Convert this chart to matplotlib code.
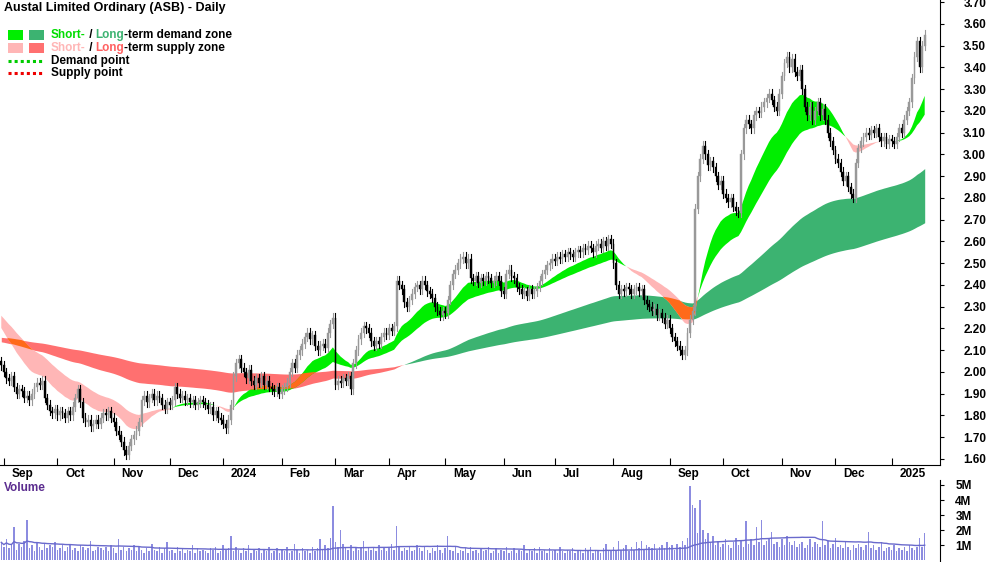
import numpy as np
import pandas as pd
import matplotlib
matplotlib.use("Agg")
import matplotlib.pyplot as plt
from matplotlib.patches import Rectangle

plt.rcParams['font.family'] = ['Liberation Sans', 'DejaVu Sans']
plt.rcParams['font.weight'] = 'bold'

closes = [
 2.03,2.00,1.97,1.96, 1.98,1.93,1.90,1.92, 1.91,1.88,1.89,1.87,1.90, 1.93,1.95,1.94,1.96, 1.88,1.85,
 1.82,1.81,1.83,1.80,1.82,1.81,1.79,1.82,1.80, 1.84,1.88,1.92,1.86, 1.79,1.77,1.78,1.75,1.76,1.78,1.76,1.79,
 1.81,1.80,1.82,1.79,1.77, 1.73,1.71,1.68,1.64, 1.62,1.66,1.69,1.71,1.73,1.77,
 1.87,1.89,1.86,1.88,1.90,1.87,1.89,1.88, 1.85,1.83,1.86,1.85,1.87, 1.93,1.90,
 1.88,1.89,1.87,1.88,1.86,1.87,1.85,1.86,1.87,1.86, 1.85,1.83,1.84,1.80,1.82,1.79,1.78,1.76, 1.74,1.78,1.85,
 1.98,2.04,2.06,2.02,2.00,1.97,2.01, 1.96,1.94,1.97,1.95,1.98,1.94,1.96,1.93, 1.92,1.91,1.93,1.90,1.92,1.93,1.95,
 2.00,2.04,2.02,2.08,2.10,2.13, 2.16,2.18,2.15,2.17,2.12, 2.10,2.12,2.13,2.11, 2.18,2.22,2.25,
 1.94,1.96,1.95,1.97,1.96,1.98,1.92, 2.04,2.10,2.15, 2.18,2.21,2.20,2.18, 2.14,2.12,2.14,2.13,
 2.16,2.18,2.17,2.20,2.19,2.21, 2.42,2.40,2.38, 2.32,2.30,2.33,
 2.36,2.39,2.40,2.38,2.42,2.40,2.37,2.36,2.34, 2.30,2.28,2.26,2.28,2.27, 2.33,2.40,2.45,2.47,
 2.50,2.52,2.53,2.50,2.52, 2.43,2.42,2.44,2.41,2.43,2.42,2.44,2.43,2.41,2.42,2.44,2.42, 2.37,2.36,
 2.45,2.47,2.44,2.43, 2.39,2.38,2.36,2.37,2.35,2.38,2.36,2.37,2.39, 2.42,2.45,2.47,2.49,
 2.50,2.52,2.51,2.53,2.52,2.54,2.53,2.55,2.54,2.53,2.55,2.56,
 2.55,2.57,2.56,2.58,2.57,2.55,2.58,2.59,2.57,2.60,2.58,2.61,2.59, 2.50,2.40,2.36,
 2.38,2.37,2.39,2.38,2.36,2.38,2.39,2.37,2.38, 2.33,2.31,2.30,2.28,2.29,2.26,2.27,2.25,2.22,
 2.24,2.20,2.16,2.14,2.12,2.10,2.08,2.10, 2.18,2.24,2.28,
 2.75,2.90,2.98,3.04, 3.00,2.95,2.97,2.94, 2.90,2.86,2.88,2.82,2.80, 2.78,2.80,2.76,2.74,2.73,
 3.00,3.12,3.16,3.14,3.12, 3.18,3.20,3.19,3.22,3.24,3.26,3.28,3.25, 3.22,3.20,3.28,
 3.36,3.42,3.45,3.40,3.44, 3.38,3.36,3.39,3.30,3.22, 3.18,3.22,3.16,3.20,3.24,3.18,3.21,3.16,
 3.10,3.06,3.02,2.98,2.96,2.92,2.88,2.90, 2.85,2.82,2.80,2.96,3.03,
 3.06,3.08,3.10,3.09,3.11,3.10,3.12,3.08, 3.06,3.08,3.05,3.07,3.06,3.05,3.08,
 3.12,3.10,3.16,3.20,3.24, 3.35,3.45,3.52,3.40,3.50,3.55,
]
first_open = 2.05
volume_m = [
 1.2,0.9,1.4,0.8,1.0,2.2,0.7,1.1,0.9,1.3,2.7,0.8,1.0,0.6,1.2,0.9,0.7,1.1,0.8,1.0,
 0.9,1.2,0.7,0.8,1.0,0.6,0.9,1.1,0.7,0.8,0.6,1.0,0.9,0.7,0.8,1.3,0.6,0.7,0.9,0.8,
 0.7,0.9,0.6,1.0,0.8,0.5,1.4,0.7,0.9,0.6,0.8,0.7,1.0,0.6,0.9,0.7,0.5,0.8,0.6,1.1,
 0.7,0.6,0.9,0.5,0.8,1.2,0.6,0.7,0.5,0.9,0.6,0.8,0.5,0.7,0.6,1.0,0.5,0.8,0.6,0.7,
 0.6,0.5,0.8,0.7,0.9,0.5,0.6,1.0,0.7,0.8,1.6,0.6,0.9,0.7,0.5,0.8,0.6,1.0,0.5,0.7,
 0.6,0.8,0.5,0.7,0.6,0.9,0.5,0.6,0.8,0.5,0.7,0.6,0.9,0.5,0.6,1.1,0.7,0.5,0.8,0.6,
 0.7,0.5,0.9,0.6,0.8,1.4,0.7,1.0,0.8,1.5,3.6,1.2,0.9,2.0,1.1,0.8,0.7,1.0,0.6,0.9,
 0.7,0.8,1.3,0.6,0.9,0.7,0.8,0.6,1.0,0.7,0.9,0.6,0.8,1.1,0.7,2.3,0.9,0.6,0.8,0.7,
 0.9,0.6,0.7,1.0,0.8,0.6,0.9,0.7,0.5,0.8,0.6,1.0,0.7,0.5,0.8,1.6,0.7,0.6,0.9,0.5,
 0.7,0.6,0.8,0.5,0.9,0.6,0.7,0.5,0.8,0.6,0.7,0.9,0.5,0.6,0.8,0.5,0.7,0.6,0.9,0.5,
 0.6,0.8,0.5,0.7,0.6,1.0,0.5,0.7,0.6,0.8,0.5,0.9,0.6,0.7,0.5,0.8,0.6,0.7,0.5,0.9,
 0.6,0.5,0.7,0.6,0.8,0.5,0.7,0.6,0.5,0.8,0.6,0.9,0.5,0.7,0.6,0.5,0.8,1.1,0.6,0.7,
 0.9,0.6,1.3,0.7,0.8,1.0,0.6,0.9,0.7,1.2,0.8,1.3,0.7,1.0,0.9,0.8,1.1,0.7,0.9,1.0,
 0.8,1.2,0.9,1.0,0.7,1.1,0.9,1.3,1.0,1.5,4.9,3.7,3.5,1.8,4.0,2.0,1.4,1.8,1.2,1.6,
 1.0,1.3,0.9,1.1,1.4,1.0,0.8,1.2,1.5,1.0,1.3,0.9,2.6,1.1,1.4,1.0,2.2,1.2,2.7,1.0,
 1.3,1.5,1.9,1.1,1.2,0.9,1.4,1.0,1.6,1.2,1.0,1.3,0.9,1.1,1.2,0.8,1.0,1.4,0.9,1.2,
 1.1,0.9,2.6,1.0,1.3,0.8,1.1,1.5,0.9,1.0,0.8,1.2,0.9,0.7,1.0,0.8,1.1,0.9,0.7,1.0,
 1.9,0.8,1.0,0.7,0.9,1.2,0.6,0.8,0.9,0.7,1.0,0.6,0.8,0.7,0.9,0.6,1.0,0.8,0.7,0.9,
 1.5,0.9,1.8,
]
last_date = "2025-01-20"
short_spans = (20, 40)
long_spans = (130, 260)
short_seed = (2.22, 2.27)
long_seed = (2.14, 2.16)
price_ticks = [round(1.6 + 0.1 * i, 2) for i in range(22)]
vol_ticks = [1, 2, 3, 4, 5]

N = len(closes)
c = np.array(closes)
vol = np.array(volume_m[:N])
o = np.concatenate([[first_open], c[:-1]])
hi = np.maximum(o, c) + 0.02
lo = np.minimum(o, c) - 0.02
dates = pd.bdate_range(end=last_date, periods=N)
x = np.arange(N)

def ema(vals, span, seed):
    a = 2.0 / (span + 1)
    out = np.empty(len(vals)); prev = seed
    for i, v in enumerate(vals):
        prev = prev + a * (v - prev); out[i] = prev
    return out

sf = ema(c, short_spans[0], short_seed[0]); ss = ema(c, short_spans[1], short_seed[1])
lf = ema(c, long_spans[0], long_seed[0]); ls = ema(c, long_spans[1], long_seed[1])

fig = plt.figure(figsize=(10, 5.62), dpi=100)
ax = fig.add_axes([0, 97/562, 0.94, 465/562])
axv = fig.add_axes([0, 0, 0.94, 82/562])

def band(a_, b_, up_col, dn_col):
    lo_ = np.minimum(a_, b_); hi_ = np.maximum(a_, b_)
    up = a_ >= b_
    ax.fill_between(x, lo_, hi_, where=up, color=up_col, lw=0, interpolate=True, zorder=1)
    ax.fill_between(x, lo_, hi_, where=~up, color=dn_col, lw=0, interpolate=True, zorder=1)
    return lo_, hi_

l_lo, l_hi = band(lf, ls, '#3cb371', '#ff7070')
s_lo, s_hi = band(sf, ss, '#00ee00', '#ffb6b6')
ov_lo = np.maximum(l_lo, s_lo); ov_hi = np.minimum(l_hi, s_hi)
ax.fill_between(x, ov_lo, ov_hi, where=ov_hi > ov_lo, color='#ff6a1a', lw=0, interpolate=True, zorder=1.5)

for i in range(N):
    col = '#999999' if c[i] >= o[i] else '#000000'
    ax.plot([i, i], [lo[i], hi[i]], color=col, lw=0.8, zorder=2)
    ax.add_patch(Rectangle((i - 0.35, min(o[i], c[i])), 0.7, max(abs(c[i] - o[i]), 0.004),
                           facecolor=col, edgecolor=col, lw=0.3, zorder=3))

xmax = N - 1 + 6
ax.set_xlim(-0.5, xmax); ax.set_ylim(1.572, 3.71)
ax.yaxis.tick_right()
ax.set_yticks(price_ticks)
ax.set_yticklabels([f"{t:.2f}" for t in price_ticks], fontsize=8.5)
ax.tick_params(axis='y', direction='out', length=3, pad=22)
for lab in ax.get_yticklabels():
    lab.set_ha('center')
for s in ['top', 'left']:
    ax.spines[s].set_visible(False)

mstarts = [i for i in range(1, N) if dates[i].month != dates[i - 1].month]
ax.set_xticks(mstarts); ax.set_xticklabels([])
ax.tick_params(axis='x', direction='in', length=5)
for i in mstarts:
    d = dates[i]
    lab = str(d.year) if d.month == 1 else d.strftime('%b')
    ax.text(i + 3, -0.006, lab, transform=ax.get_xaxis_transform(), ha='left', va='top',
            fontsize=8.5)

ax.text(0.004, 0.995, "Austal Limited Ordinary (ASB) - Daily", transform=ax.transAxes,
        ha='left', va='top', fontsize=9)
leg_y = [0.925, 0.897, 0.869, 0.843]
for (c1, c2), yy in zip([('#00ee00', '#3cb371'), ('#ffb6b6', '#ff7070')], leg_y[:2]):
    ax.add_patch(Rectangle((0.008, yy - 0.011), 0.016, 0.022, transform=ax.transAxes, color=c1, lw=0))
    ax.add_patch(Rectangle((0.031, yy - 0.011), 0.016, 0.022, transform=ax.transAxes, color=c2, lw=0))
def rich(yy, parts):
    xx = 0.054
    for s, col in parts:
        t = ax.text(xx, yy, s, transform=ax.transAxes, color=col, fontsize=8.5, va='center')
        fig.canvas.draw()
        bb = t.get_window_extent().transformed(ax.transAxes.inverted())
        xx = bb.x1
rich(leg_y[0], [("Short-", '#00dd00'), (" / ", 'black'), ("Long", '#3cb371'), ("-term demand zone", 'black')])
rich(leg_y[1], [("Short-", '#ffb6b6'), (" / ", 'black'), ("Long", '#ff6060'), ("-term supply zone", 'black')])
ax.plot([0.008, 0.047], [leg_y[2]] * 2, transform=ax.transAxes, color='#00cc00', lw=2.2, ls=(0, (1, 1)))
ax.plot([0.008, 0.047], [leg_y[3]] * 2, transform=ax.transAxes, color='#ee0000', lw=2.2, ls=(0, (1, 1)))
ax.text(0.054, leg_y[2], "Demand point", transform=ax.transAxes, fontsize=8.5, va='center')
ax.text(0.054, leg_y[3], "Supply point", transform=ax.transAxes, fontsize=8.5, va='center')

axv.bar(x, vol, width=0.6, color='#8c8ce0', lw=0)
vma = pd.Series(vol).rolling(50, min_periods=1).mean()
axv.plot(x, vma, color='#6a6acc', lw=1)
axv.set_xlim(-0.5, xmax); axv.set_ylim(-0.1, 5.33)
axv.yaxis.tick_right()
axv.set_yticks(vol_ticks); axv.set_yticklabels([f"{t}M" for t in vol_ticks], fontsize=8.5)
axv.tick_params(axis='y', direction='out', length=3, pad=8)
axv.set_xticks([])
for s in ['top', 'left', 'bottom']:
    axv.spines[s].set_visible(False)
axv.text(0.004, 0.97, "Volume", transform=axv.transAxes, ha='left', va='top', fontsize=8.5, color='#5b2c8f')

fig.savefig("out.png", dpi=100)
